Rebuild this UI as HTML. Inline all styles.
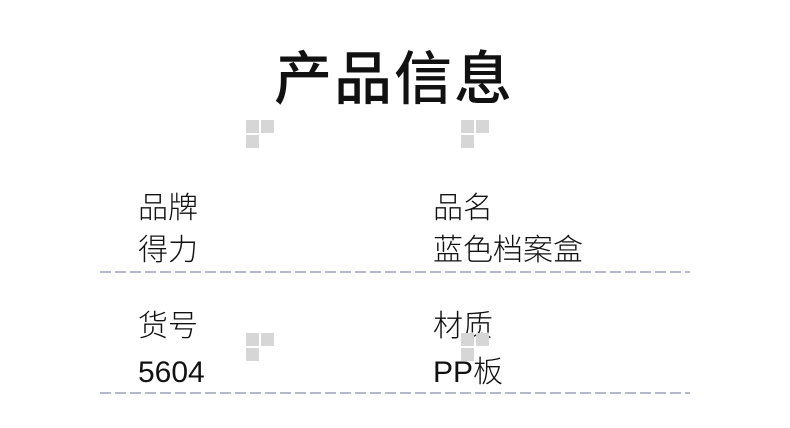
<!DOCTYPE html>
<html><head><meta charset="utf-8"><style>
body{margin:0;width:790px;height:428px;background:#fff;position:relative;overflow:hidden;font-family:"Liberation Sans","Noto Sans CJK SC",sans-serif;color:#111}
.t{position:absolute;white-space:nowrap;line-height:1;font-size:30px;font-weight:300}
.d{position:absolute;left:100px;width:590px;height:2px;background:repeating-linear-gradient(90deg,#b4b8c8 0 11px,transparent 11px 15px)}
.w{position:absolute;width:30px;height:30px}
.w i{position:absolute;background:#d6d6d6;width:13px;height:13px}
</style></head><body>
<div class="t" style="left:274px;top:51px;font-size:58px;font-weight:500;letter-spacing:2px">产品信息</div>
<div class="t" style="left:138px;top:194px">品牌</div>
<div class="t" style="left:138px;top:236px">得力</div>
<div class="t" style="left:433px;top:194px">品名</div>
<div class="t" style="left:433px;top:236px">蓝色档案盒</div>
<div class="d" style="top:271px"></div>
<div class="t" style="left:138px;top:312px">货号</div>
<div class="t" style="left:138px;top:358px">5604</div>
<div class="t" style="left:433px;top:312px">材质</div>
<div class="t" style="left:433px;top:358px">PP板</div>
<div class="d" style="top:392px"></div>
<div class="w" style="left:246px;top:120px"><i style="left:0;top:0"></i><i style="left:15px;top:0"></i><i style="left:0;top:15px"></i></div>
<div class="w" style="left:461px;top:120px"><i style="left:0;top:0"></i><i style="left:15px;top:0"></i><i style="left:0;top:15px"></i></div>
<div class="w" style="left:246px;top:333px"><i style="left:0;top:0"></i><i style="left:15px;top:0"></i><i style="left:0;top:15px"></i></div>
<div class="w" style="left:461px;top:333px"><i style="left:0;top:0"></i><i style="left:15px;top:0"></i><i style="left:0;top:15px"></i></div>
</body></html>
